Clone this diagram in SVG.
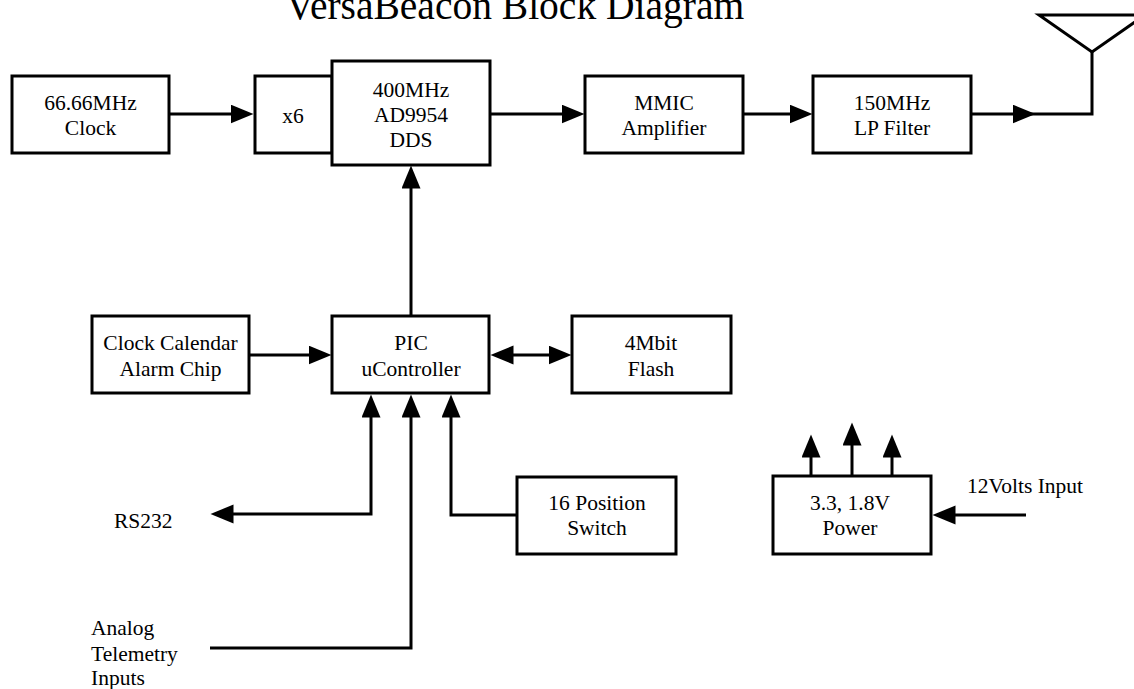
<svg xmlns="http://www.w3.org/2000/svg" width="1134" height="689" viewBox="0 0 1134 689">
<style>
.box{fill:#fff;stroke:#000;stroke-width:3}
.lbl{font-family:"Liberation Serif","Times New Roman",serif;font-size:21.5px;fill:#000;text-anchor:middle}
.free{font-family:"Liberation Serif","Times New Roman",serif;font-size:21.5px;fill:#000}
.title{font-family:"Liberation Serif","Times New Roman",serif;font-size:39.5px;fill:#000;text-anchor:middle}
.wire{fill:none;stroke:#000;stroke-width:3}
</style>
<defs>
<marker id="arr" markerUnits="userSpaceOnUse" markerWidth="24" markerHeight="20" viewBox="0 0 24 20" refX="0.5" refY="9.5" orient="auto-start-reverse">
<path d="M0,0 L23,9.5 L0,19 Z" fill="#000"/>
</marker>
</defs>
<rect width="1134" height="689" fill="#fff"/>
<text class="title" x="515" y="19">VersaBeacon Block Diagram</text>

<g id="clock"><rect class="box" x="12" y="76" width="157" height="77"/><text class="lbl" x="90.5" y="110">66.66MHz</text><text class="lbl" x="90.5" y="135">Clock</text></g>
<g id="x6"><rect class="box" x="255" y="76" width="77" height="77"/><text class="lbl" x="293" y="123">x6</text></g>
<g id="dds"><rect class="box" x="332" y="61" width="158" height="104"/><text class="lbl" x="411" y="97">400MHz</text><text class="lbl" x="411" y="122">AD9954</text><text class="lbl" x="411" y="147">DDS</text></g>
<g id="mmic"><rect class="box" x="585" y="76" width="158" height="77"/><text class="lbl" x="664" y="110">MMIC</text><text class="lbl" x="664" y="135">Amplifier</text></g>
<g id="lpf"><rect class="box" x="813" y="76" width="158" height="77"/><text class="lbl" x="892" y="110">150MHz</text><text class="lbl" x="892" y="135">LP Filter</text></g>
<g id="antenna"><path class="wire" d="M1039,15 L1145,15 L1092,52 Z"/></g>
<g id="rtc"><rect class="box" x="92" y="316" width="157" height="77"/><text class="lbl" x="170.5" y="350">Clock Calendar</text><text class="lbl" x="170.5" y="376">Alarm Chip</text></g>
<g id="pic"><rect class="box" x="332" y="316" width="157" height="77"/><text class="lbl" x="411" y="350">PIC</text><text class="lbl" x="411" y="376">uController</text></g>
<g id="flash"><rect class="box" x="572" y="316" width="159" height="77"/><text class="lbl" x="651" y="350">4Mbit</text><text class="lbl" x="651" y="376">Flash</text></g>
<g id="switch"><rect class="box" x="517" y="477" width="159" height="77"/><text class="lbl" x="597" y="510">16 Position</text><text class="lbl" x="597" y="535">Switch</text></g>
<g id="power"><rect class="box" x="773" y="476" width="158" height="78"/><text class="lbl" x="850" y="510">3.3, 1.8V</text><text class="lbl" x="850" y="535">Power</text></g>
<g id="rs232"><text class="free" x="114" y="528">RS232</text></g>
<g id="analog"><text class="free" x="91" y="635">Analog</text><text class="free" x="91" y="661">Telemetry</text><text class="free" x="91" y="685">Inputs</text></g>
<g id="v12"><text class="free" x="967" y="493">12Volts Input</text></g>

<g id="connectors">
<path class="wire" d="M169,114 L231,114" marker-end="url(#arr)"/>
<path class="wire" d="M490,114 L562,114" marker-end="url(#arr)"/>
<path class="wire" d="M743,114 L790,114" marker-end="url(#arr)"/>
<path class="wire" d="M971,114 L1013,114" marker-end="url(#arr)"/>
<path class="wire" d="M1013,114 L1092,114 L1092,51"/>
<path class="wire" d="M411,316 L411,188" marker-end="url(#arr)"/>
<path class="wire" d="M249,355 L309,355" marker-end="url(#arr)"/>
<path class="wire" d="M513,355 L549,355" marker-start="url(#arr)" marker-end="url(#arr)"/>
<path class="wire" d="M233,514 L371,514 L371,417" marker-start="url(#arr)" marker-end="url(#arr)"/>
<path class="wire" d="M210,648 L411,648 L411,417" marker-end="url(#arr)"/>
<path class="wire" d="M517,515 L451,515 L451,417" marker-end="url(#arr)"/>
<path class="wire" d="M811,476 L811,457" marker-end="url(#arr)"/>
<path class="wire" d="M852,476 L852,445" marker-end="url(#arr)"/>
<path class="wire" d="M892,476 L892,457" marker-end="url(#arr)"/>
<path class="wire" d="M1026,515 L955,515" marker-end="url(#arr)"/>
</g>
</svg>
